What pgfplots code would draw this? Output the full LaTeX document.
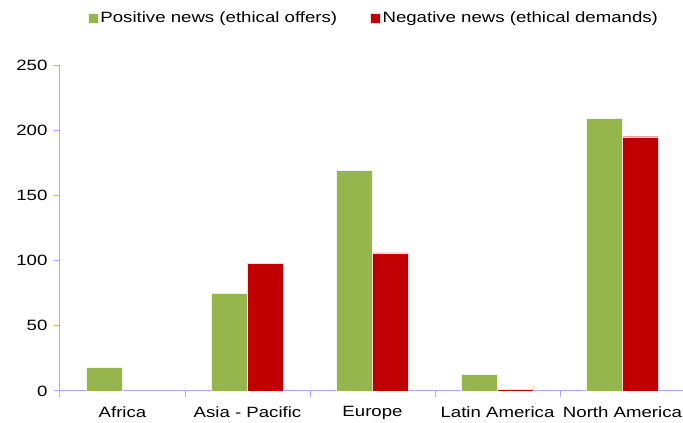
\documentclass[border=0pt]{standalone}
\usepackage{pgfplots}
\pgfplotsset{compat=1.18}
\usepackage{fontspec}
\setmainfont[FakeStretch=1.25]{Liberation Sans}
\definecolor{posgreen}{HTML}{95B64D}
\definecolor{negred}{HTML}{C00000}
\definecolor{axisblue}{HTML}{A8A8FF}
\begin{document}
\begin{tikzpicture}
\useasboundingbox (-60pt,-32pt) rectangle (623pt,391pt);
\begin{axis}[
  at={(0pt,0pt)}, anchor=south west,
  scale only axis,
  width=625pt, height=326pt,
  xmin=-0.5, xmax=4.5,
  ymin=0, ymax=250,
  ytick={0,50,...,250},
  xtick={0,1,2,3,4},
  xticklabels={Africa, Asia - Pacific, Europe, Latin America, North America},
  minor xtick={-0.5,0.5,1.5,2.5,3.5,4.5},
  tick align=outside,
  major tick length=6pt,
  minor tick length=6pt,
  axis x line*=bottom,
  axis y line*=left,
  axis line style={draw=axisblue, line width=1pt, -},
  xtick style={draw=none},
  ytick style={draw=axisblue, line width=1pt},
  minor x tick style={draw=axisblue, line width=1pt},
  separate axis lines,
  x axis line style={shorten <=-6pt},
  ticklabel style={font=\fontsize{14.9}{17}\selectfont, text=black},
  /pgf/number format/assume math mode=true,
  xticklabel style={yshift=-6pt},
  yticklabel style={xshift=-3pt},
  ybar=0pt,
  bar width=36pt,
  legend style={
    at={(314pt,373pt)}, anchor=center,
    draw=none, fill=none,
    legend columns=2,
    font=\fontsize{14.9}{17}\selectfont,
    /tikz/every even column/.append style={column sep=31pt},
  },
  legend image code/.code={
    \fill[#1] (0pt,-5pt) rectangle (10pt,5pt);
  },
]
\addplot[fill=posgreen, draw=white!85!posgreen, line width=0.4pt]
  coordinates {(0,18) (1,75) (2,169) (3,13) (4,209)};
\addlegendentry{Positive news (ethical offers)}
\addplot[fill=negred, draw=white!85!negred, line width=0.4pt]
  coordinates {(1,98) (2,106) (3,1.5) (4,195)};
\addlegendentry{Negative news (ethical demands)}
\end{axis}
\end{tikzpicture}
\end{document}
